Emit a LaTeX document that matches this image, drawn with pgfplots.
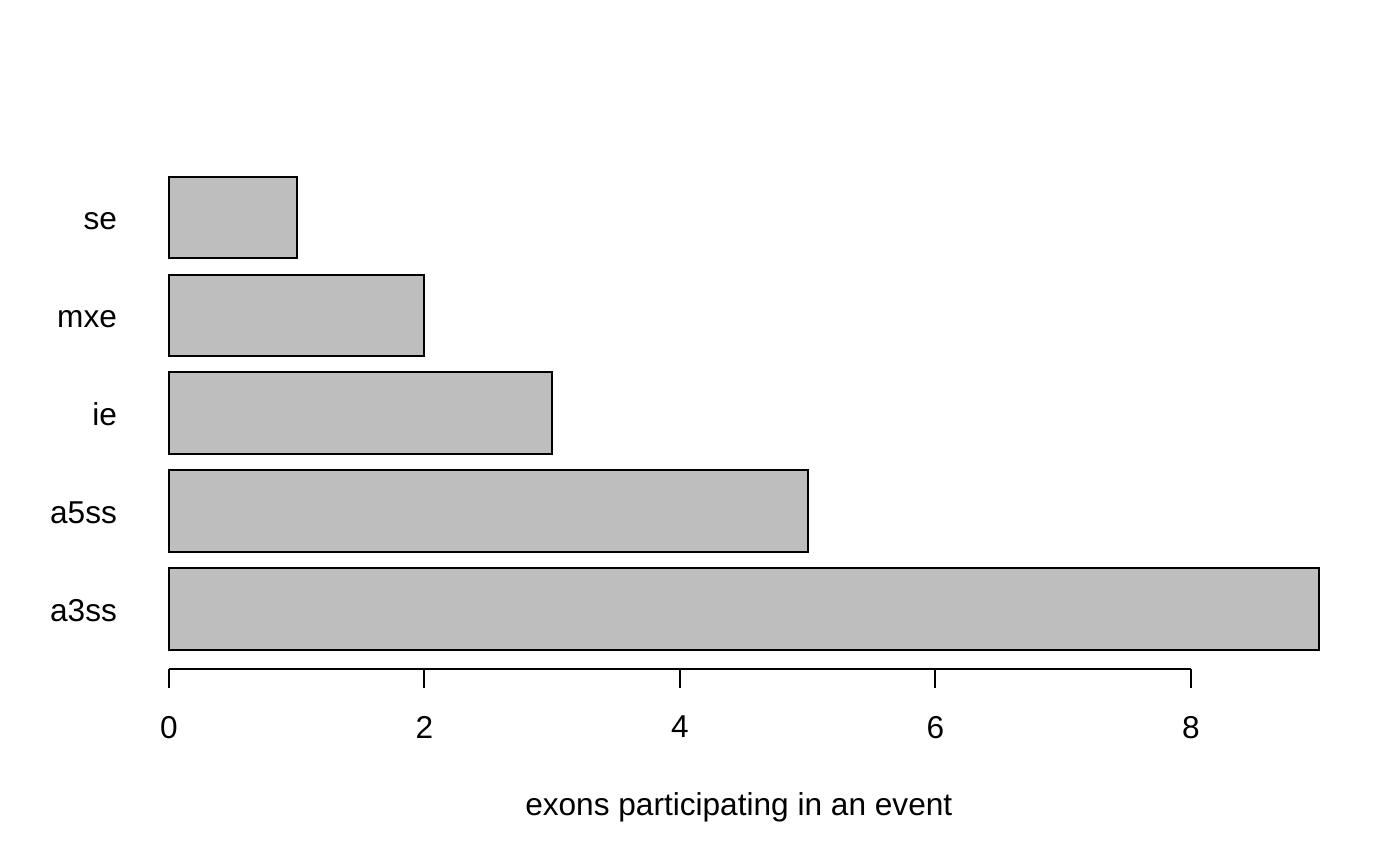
\documentclass[border=0pt]{standalone}
\usepackage{fontspec}
\setmainfont{Liberation Sans}
\usepackage{pgfplots}
\pgfplotsset{compat=1.18}
\definecolor{bargray}{RGB}{190,190,190}
\begin{document}
\fontsize{11.38bp}{13.6bp}\selectfont
\begin{tikzpicture}
\begin{axis}[
  name=a, at={(0,0)}, anchor=south west,
  scale only axis,
  x=45.99bp, y=29.39bp,
  xmin=-0.36, xmax=9.36, ymin=-0.032, ymax=6.232,
  axis x line*=bottom, axis y line*=left,
  x axis line style={line width=0.72bp, black, shorten <=16.56bp, shorten >=62.55bp},
  y axis line style={draw=none},
  xbar, bar width=29.39bp,
  ytick={0.7,1.9,3.1,4.3,5.5}, yticklabels={a3ss,a5ss,ie,mxe,se},
  xtick={0,2,4,6,8},
  tick align=outside, major tick length=6.84bp,
  ytick style={draw=none},
  xtick style={line width=0.72bp, black},
  yticklabel style={anchor=base east, inner sep=0pt, xshift=4.85bp, yshift=-4.25bp},
  xticklabel style={anchor=north, inner sep=0pt, yshift=-9.96bp},
  /pgf/number format/assume math mode=true,
  xlabel={exons participating in an event},
  xlabel style={at={(rel axis cs:0.4959,0)}, anchor=base, inner sep=0pt, yshift=-52.7bp},
  clip=false,
]
\addplot[fill=bargray, draw=black, line width=0.72bp] coordinates {(9,0.7) (5,1.9) (3,3.1) (2,4.3) (1,5.5)};
\end{axis}
\path (a.south west) ++(-44.28bp,-70.56bp) rectangle ++(504bp,311.4bp);
\end{tikzpicture}
\end{document}
